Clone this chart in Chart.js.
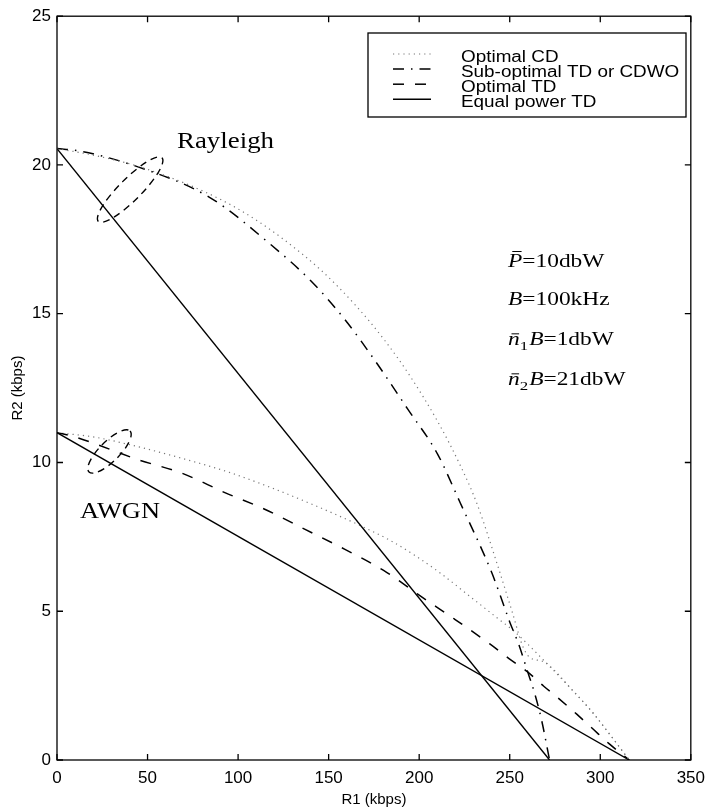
<!DOCTYPE html>
<html>
<head>
<meta charset="utf-8">
<script src="https://cdn.jsdelivr.net/npm/chart.js@4.4.0/dist/chart.umd.min.js"></script>
<style>
  body { margin: 0; background: #fff; }
  canvas { display: block; }
</style>
</head>
<body>
<canvas id="rateChart" width="713" height="810"></canvas>
<script>
// axis ticks (kbps)
const xTicks = [0, 50, 100, 150, 200, 250, 300, 350];
const yTicks = [0, 5, 10, 15, 20, 25];

// Rayleigh fading curves
const rayCD_r1 = [0, 20, 45, 80, 102, 124, 146, 164.6, 181, 195, 210, 222.7, 232, 243, 252, 257, 261, 268.8, 285, 296, 305, 316];
const rayCD_r2 = [20.55, 20.33, 19.95, 19.14, 18.45, 17.55, 16.45, 15.3, 14.1, 12.9, 11.4, 9.9, 8.6, 6.6, 4.85, 3.85, 3.45, 3.3, 2.32, 1.58, 0.88, 0];
const raySub_r1 = [0, 11.5, 45.5, 84, 118.5, 140.4, 159, 177, 193.6, 210, 222.7, 240, 244.7, 250, 255, 259.5, 263.9, 267.7, 272];
const raySub_r2 = [20.55, 20.48, 19.92, 18.92, 17.3, 16.09, 14.8, 13.3, 11.8, 10.3, 8.64, 6.31, 5.54, 4.64, 3.88, 3.04, 2.21, 1.31, 0];
const rayEq_r1 = [0, 272];
const rayEq_r2 = [20.55, 0];

// AWGN curves
const awgnCD_r1 = [0, 20, 40, 69, 95, 118, 143, 166, 184, 197.5, 211.7, 228, 244.6, 252, 268.8, 285, 296, 305, 316];
const awgnCD_r2 = [11.0, 10.86, 10.6, 10.14, 9.67, 9.16, 8.54, 7.92, 7.38, 6.88, 6.28, 5.5, 4.7, 4.35, 3.35, 2.32, 1.58, 0.88, 0];
const awgnTD_r1 = [0, 8.8, 45.5, 69, 93, 115, 137, 159, 182, 199, 219.4, 239, 249.6, 259.5, 268.8, 277.6, 287, 296, 305, 316];
const awgnTD_r2 = [11.0, 10.88, 10.08, 9.64, 8.98, 8.42, 7.75, 7.08, 6.31, 5.58, 4.74, 3.9, 3.41, 2.98, 2.48, 2.04, 1.54, 1.04, 0.54, 0];
const awgnEq_r1 = [0, 316];
const awgnEq_r2 = [11.0, 0];

// dashed ellipses marking the curves near the R2 axis
const markR1 = [40.4, 29];
const markR2 = [19.17, 10.37];

const DOTTED = { borderColor: '#777', borderWidth: 1.2, borderDash: [1.2, 4] };
const DASHDOT = { borderColor: '#000', borderWidth: 1.5, borderDash: [11, 7, 1.5, 7] };
const DASHED = { borderColor: '#000', borderWidth: 1.5, borderDash: [11, 11] };
const SOLID = { borderColor: '#000', borderWidth: 1.4, borderDash: [] };

function series(label, xs, ys, style) {
  return Object.assign({
    label: label,
    data: xs.map((x, i) => ({ x: x, y: ys[i] })),
    showLine: true,
    pointRadius: 0,
    fill: false,
    cubicInterpolationMode: 'monotone'
  }, style);
}

function stretchText(ctx, text, x, y, font, sx) {
  ctx.save();
  ctx.font = font;
  ctx.translate(x, y);
  ctx.scale(sx, 1);
  ctx.fillText(text, 0, 0);
  const w = ctx.measureText(text).width * sx;
  ctx.restore();
  return w;
}

// P, B, n with bars and subscripts
const paramLines = [
  [{ t: 'P', it: true, bar: 0.86 }, { t: '=10dbW' }],
  [{ t: 'B', it: true }, { t: '=100kHz' }],
  [{ t: 'n', it: true, bar: 0.62 }, { t: '1', sub: true }, { t: 'B', it: true }, { t: '=1dbW' }],
  [{ t: 'n', it: true, bar: 0.62 }, { t: '2', sub: true }, { t: 'B', it: true }, { t: '=21dbW' }]
];

const decor = {
  id: 'decor',
  afterDraw(chart) {
    const ctx = chart.ctx;
    const a = chart.chartArea;
    const sx = chart.scales.x, sy = chart.scales.y;
    ctx.save();

    // box and inward ticks
    ctx.strokeStyle = '#000';
    ctx.lineWidth = 1.3;
    ctx.setLineDash([]);
    ctx.strokeRect(a.left, a.top, a.right - a.left, a.bottom - a.top);
    ctx.beginPath();
    sx.ticks.forEach(t => {
      const px = sx.getPixelForValue(t.value);
      ctx.moveTo(px, a.bottom); ctx.lineTo(px, a.bottom - 6);
      ctx.moveTo(px, a.top); ctx.lineTo(px, a.top + 6);
    });
    sy.ticks.forEach(t => {
      const py = sy.getPixelForValue(t.value);
      ctx.moveTo(a.left, py); ctx.lineTo(a.left + 6, py);
      ctx.moveTo(a.right, py); ctx.lineTo(a.right - 6, py);
    });
    ctx.stroke();

    // ellipses
    ctx.lineWidth = 1.4;
    ctx.setLineDash([7, 5]);
    const radii = [[45, 11], [29, 10]];
    markR1.forEach((r1, i) => {
      ctx.beginPath();
      ctx.ellipse(sx.getPixelForValue(r1), sy.getPixelForValue(markR2[i]),
        radii[i][0], radii[i][1], -Math.PI / 4, 0, Math.PI * 2);
      ctx.stroke();
    });
    ctx.setLineDash([]);

    // curve labels
    ctx.fillStyle = '#000';
    ctx.textBaseline = 'alphabetic';
    stretchText(ctx, 'Rayleigh', 177, 148, '24px "Liberation Serif"', 1.12);
    stretchText(ctx, 'AWGN', 80, 518, '24px "Liberation Serif"', 1.1);

    // parameter block
    const base = [267, 305, 345, 385];
    paramLines.forEach((parts, i) => {
      let x = 508;
      parts.forEach(p => {
        const size = p.sub ? 13 : 18;
        const font = (p.it ? 'italic ' : '') + size + 'px "Liberation Serif"';
        const y = base[i] + (p.sub ? 5 : 0);
        const w = stretchText(ctx, p.t, x, y, font, 1.3);
        if (p.bar) {
          ctx.lineWidth = 1;
          ctx.beginPath();
          ctx.moveTo(x + w * 0.3, y - size * p.bar);
          ctx.lineTo(x + w * 0.95, y - size * p.bar);
          ctx.stroke();
        }
        x += w + (p.sub ? 1 : 0);
      });
    });

    // legend
    const lx = 368, ly = 33, lw = 318, lh = 84;
    ctx.fillStyle = '#fff';
    ctx.fillRect(lx, ly, lw, lh);
    ctx.strokeStyle = '#000';
    ctx.lineWidth = 1.3;
    ctx.strokeRect(lx, ly, lw, lh);
    const seen = [];
    chart.data.datasets.forEach(ds => {
      if (seen.find(s => s.label === ds.label)) return;
      seen.push(ds);
    });
    seen.forEach((ds, i) => {
      const by = 62 + i * 15.1;
      ctx.strokeStyle = ds.borderColor;
      ctx.lineWidth = ds.borderWidth;
      ctx.setLineDash(ds.borderDash);
      ctx.beginPath();
      ctx.moveTo(393, by - 8);
      ctx.lineTo(431, by - 8);
      ctx.stroke();
      ctx.setLineDash([]);
      ctx.fillStyle = '#000';
      stretchText(ctx, ds.label, 461, by, '16px "Liberation Sans"', 1.18);
    });
    ctx.restore();
  }
};

const axisFont = { family: '"Liberation Sans", Arial, sans-serif', size: 17 };

new Chart(document.getElementById('rateChart'), {
  type: 'scatter',
  data: {
    datasets: [
      series('Optimal CD', rayCD_r1, rayCD_r2, DOTTED),
      series('Sub-optimal TD or CDWO', raySub_r1, raySub_r2, DASHDOT),
      series('Optimal TD', awgnTD_r1, awgnTD_r2, DASHED),
      series('Equal power TD', rayEq_r1, rayEq_r2, SOLID),
      series('Optimal CD', awgnCD_r1, awgnCD_r2, DOTTED),
      series('Equal power TD', awgnEq_r1, awgnEq_r2, SOLID)
    ]
  },
  options: {
    responsive: false,
    animation: false,
    layout: { padding: { top: 10, right: 16, left: 0, bottom: 0 } },
    plugins: { legend: { display: false }, tooltip: { enabled: false } },
    scales: {
      x: {
        type: 'linear',
        min: 0, max: 350,
        afterBuildTicks: s => { s.ticks = xTicks.map(v => ({ value: v })); },
        afterFit: s => { s.height = 50; },
        grid: { display: false, drawTicks: false },
        border: { display: false },
        ticks: { color: '#000', font: axisFont, padding: 8, maxRotation: 0 },
        title: { display: true, text: 'R1 (kbps)', color: '#000',
          font: { family: '"Liberation Sans", Arial, sans-serif', size: 15 }, padding: { top: 0, bottom: 1 } }
      },
      y: {
        type: 'linear',
        min: 0, max: 25,
        afterBuildTicks: s => { s.ticks = yTicks.map(v => ({ value: v })); },
        afterFit: s => { s.width = 57; },
        grid: { display: false, drawTicks: false },
        border: { display: false },
        ticks: { color: '#000', font: axisFont, padding: 6 },
        title: { display: true, text: 'R2 (kbps)', color: '#000',
          font: { family: '"Liberation Sans", Arial, sans-serif', size: 15 }, padding: { top: 9, bottom: 0 } }
      }
    }
  },
  plugins: [decor]
});
</script>
</body>
</html>
